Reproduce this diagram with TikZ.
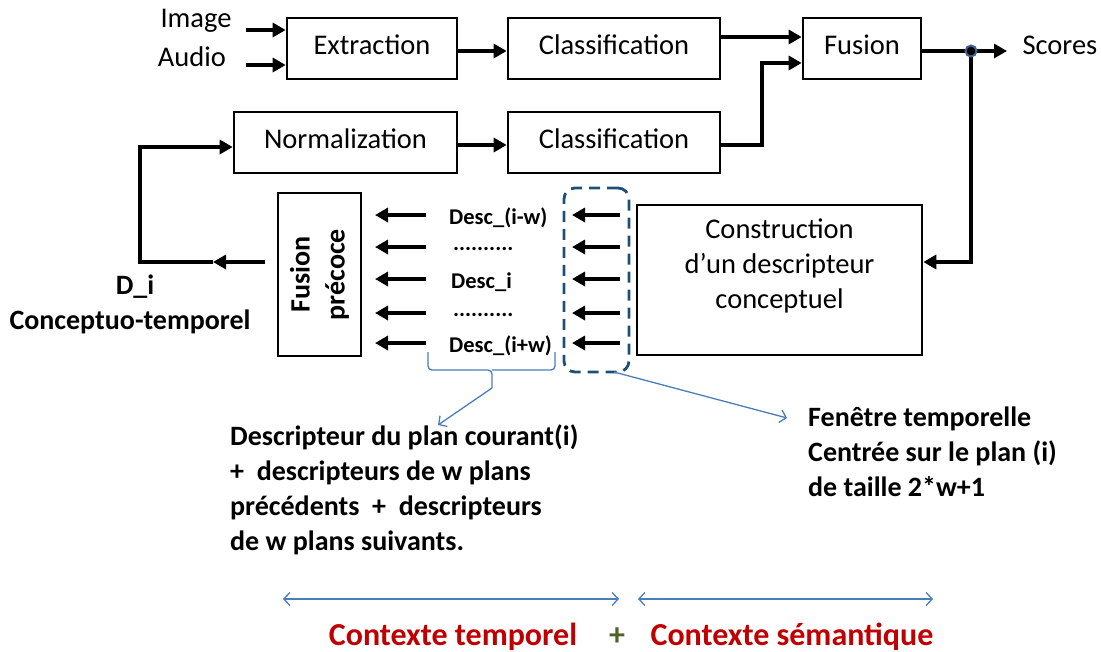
\documentclass[tikz,border=0pt]{standalone}
\usepackage{fontspec}
\setmainfont{Carlito}
\usetikzlibrary{arrows.meta,calc}
\definecolor{obl}{HTML}{4A7EBB}
\definecolor{navy}{HTML}{1F4E79}
\definecolor{ring}{HTML}{41628F}
\definecolor{dred}{HTML}{C00000}
\definecolor{olive}{HTML}{4F6228}
\newcommand\myreg{\fontsize{28.5}{35}\selectfont}
\newcommand\mybold{\fontsize{28}{35}\selectfont\bfseries}
\newcommand\mydesc{\fontsize{22.5}{27}\selectfont\bfseries}
\newcommand\mybig{\fontsize{32}{38}\selectfont\bfseries}
\begin{document}
\begin{tikzpicture}[x=1pt,y=-1pt,
  box/.style={draw, line width=2.6pt, inner sep=0pt, font=\myreg, text depth=8pt},
  arr/.style={line width=3.6pt, -{Triangle[length=13pt,width=14pt]}},
  thick line/.style={line width=3.6pt},
  bl/.style={draw=obl, line width=1.3pt},
  barb/.style={bl, -{Straight Barb[length=6pt,width=13pt,line width=1.3pt]}},
  dbarb/.style={bl, {Straight Barb[length=6pt,width=13pt,line width=1.3pt]}-{Straight Barb[length=6pt,width=13pt,line width=1.3pt]}}
]
\useasboundingbox (0,0) rectangle (1101,651);

% boxes
\node[box, minimum width=170pt, minimum height=61pt] (ext)  at (372,48.5)  {Extraction};
\node[box, minimum width=212pt, minimum height=61pt] (cls1) at (614,48.5)  {Classification};
\node[box, minimum width=118pt, minimum height=61pt] (fus)  at (862,48.5)  {Fusion};
\node[box, minimum width=223pt, minimum height=61pt] (norm) at (345.5,142.5) {Normalization};
\node[box, minimum width=212pt, minimum height=61pt] (cls2) at (614,142.5) {Classification};
\node[box, minimum width=83pt, minimum height=163pt] (fp) at (319.5,274.5) {};
\node[rotate=90, align=center, font=\mybold] (fptext) at (fp.center) {Fusion\\précoce};
\node[box, minimum width=285pt, minimum height=150pt] (cons) at (779.5,280) {};
\node[align=center, font=\myreg] (constext) at (779.5,266) {Construction\\d’un descripteur\\conceptuel};
\node[draw=navy, line width=2.8pt, dash pattern=on 11pt off 7pt, rounded corners=11pt,
      minimum width=65pt, minimum height=184pt, inner sep=0pt] (win) at (596.5,280) {};

% inputs
\node[font=\myreg] (img) at (196,21) {Image};
\node[font=\myreg] (aud) at (192,57) {Audio};
\coordinate (imgs) at (246,30);
\coordinate (auds) at (246,65);
\draw[arr] (imgs) -- (ext.west |- imgs);
\draw[arr] (auds) -- (ext.west |- auds);

% top chain
\coordinate (y51) at (0,51);
\draw[arr] (ext.east |- y51) -- (cls1.west |- y51);
\coordinate (y37) at (0,37);
\draw[arr] (cls1.east |- y37) -- (fus.west |- y37);
\coordinate (c63) at (762,63);
\coordinate (y145) at (0,145);
\draw[thick line, -{Triangle[length=13pt,width=14pt]}] (cls2.east |- y145) -| (c63) -- (fus.west |- c63);
\draw[arr] (norm.east |- y145) -- (cls2.west |- y145);

% scores
\node[circle, fill=black, inner sep=0pt, minimum size=11pt] (dot) at (971,51) {};
\coordinate (se) at (1007,51);
\node[font=\myreg, anchor=west] (scores) at (1019,45) {Scores};
\draw[arr] (fus.east |- dot) -- (se);
\coordinate (c262) at (971,262);
\draw[arr] (dot.center) -- (c262) -- (cons.east |- c262);
\node[circle, fill=black, draw=ring, line width=2pt, inner sep=0pt, minimum size=11pt] at (dot) {};

% feedback left
\coordinate (fpo) at (265,262);
\coordinate (fmid) at (213,262);
\coordinate (fcorner) at (140,262);
\coordinate (n147) at (0,147);
\draw[arr] (fpo) -- (fmid);
\draw[arr] (fmid) -- (fcorner) |- (norm.west |- n147);
\node[font=\mybold] (di) at (135,287) {D\_i};
\node[font=\mybold] (ct) at (130,322) {Conceptuo-temporel};

% descriptor arrows
\foreach \y [count=\k] in {215,247,279,313,343} {
  \coordinate (rs\k) at (620,\y);
  \coordinate (re\k) at (572,\y);
  \coordinate (ls\k) at (426,\y);
  \coordinate (le\k) at (375,\y);
  \draw[arr] (rs\k) -- (re\k);
  \draw[arr] (ls\k) -- (le\k);
}
\node[font=\mydesc, anchor=base west, inner sep=0pt] (d1) at (449,224) {Desc\_(i-w)};
\node[font=\mydesc, anchor=base west, inner sep=0pt] (d2) at (453,250) {..........};
\node[font=\mydesc, anchor=base west, inner sep=0pt] (d3) at (451,288) {Desc\_i};
\node[font=\mydesc, anchor=base west, inner sep=0pt] (d4) at (453,316) {..........};
\node[font=\mydesc, anchor=base west, inner sep=0pt] (d5) at (449,352) {Desc\_(i+w)};

% brace and callouts
\coordinate (bra) at (428,352);
\coordinate (brb) at (555,352);
\coordinate (brm) at (492,370);
\coordinate (brt) at (492,388);
\draw[bl, rounded corners=4pt] (bra) |- (brm) -- (brt);
\draw[bl, rounded corners=4pt] (brb) |- (brm);
\node[font=\mybold, align=left, anchor=north west, inner sep=0pt] (desctext) at (230,425)
  {Descripteur du plan courant(i)\\+\ \ descripteurs de w plans\\précédents\ \ +\ \ descripteurs\\de w plans suivants.};
\coordinate (dend) at (438,425);
\draw[barb] (brt) -- (dend);

\coordinate (wstart) at (614,372);
\coordinate (wend) at (787,418);
\draw[barb] (wstart) -- (wend);
\node[font=\mybold, align=left, anchor=north west, inner sep=0pt] (fentext) at (808,407)
  {Fenêtre temporelle\\Centrée sur le plan (i)\\de taille 2*w+1};

% bottom
\coordinate (a1) at (283,599);
\coordinate (a2) at (619,599);
\coordinate (a3) at (638,599);
\coordinate (a4) at (933,599);
\draw[dbarb] (a1) -- (a2);
\draw[dbarb] (a3) -- (a4);
\node[font=\mybig, text=dred, anchor=base] (ctemp) at (453,645) {Contexte temporel};
\node[font=\mybig, text=olive, anchor=base] (plus) at (617,645) {+};
\node[font=\mybig, text=dred, anchor=base] (csem) at (792,645) {Contexte sémantique};
\end{tikzpicture}
\end{document}
